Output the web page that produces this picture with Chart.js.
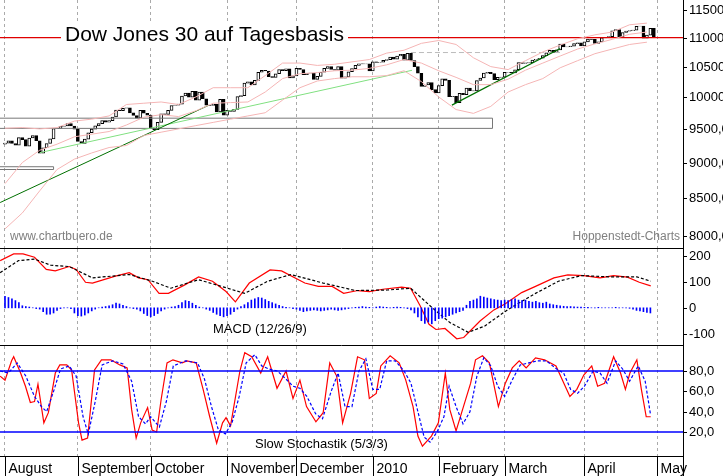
<!DOCTYPE html>
<html><head><meta charset="utf-8">
<script src="https://cdn.jsdelivr.net/npm/chart.js@4.4.1/dist/chart.umd.min.js"></script>
<style>
body{margin:0;background:#fff;width:723px;height:476px;overflow:hidden;font-family:Arial,"Liberation Sans",sans-serif}
.p{position:absolute;left:0;width:723px}
</style></head><body>
<div class="p" style="top:0;height:249px"><canvas id="c1"></canvas></div>
<div class="p" style="top:249px;height:97px"><canvas id="c2"></canvas></div>
<div class="p" style="top:346px;height:130px"><canvas id="c3"></canvas></div>
<script>
// ---- data ----
const monthDays = [0,21,42,64,84,106,125,144,167,188];
const monthLabels = ["August","September","October","November","December","2010","February","March","April","May"];
const closes = [
9286,9320,9280,9256,9370,9337,9241,9362,9398,9321,9135,9217,9280,9350,9505,9509,9539,9544,9580,9544,9496,
9310,9280,9345,9441,9497,9547,9580,9627,9605,9626,9683,9791,9783,9820,9829,9748,9707,9665,9789,9742,9712,
9509,9487,9599,9731,9725,9786,9864,9871,9885,10016,10062,9995,10092,9949,10081,9972,9868,9867,9882,9762,9962,9713,
9789,9772,9802,10005,10023,10226,10246,10197,10271,10406,10437,10426,10332,10318,10380,10450,10433,10464,10310,10345,
10471,10452,10366,10388,10390,10286,10337,10405,10471,10502,10452,10441,10501,10308,10328,10414,10466,10520,10547,10545,10548,10428,
10583,10572,10574,10607,10619,10663,10627,10680,10711,10610,10726,10604,10500,10389,10173,10194,10236,10120,10067,
10185,10297,10270,10003,10012,9908,10058,10038,10144,10100,10099,10268,10309,10392,10402,10383,10282,10321,10325,
10404,10405,10396,10447,10567,10552,10564,10567,10611,10625,10642,10686,10733,10779,10741,10785,10888,10836,10841,10850,10895,10907,10856,
10927,10973,10969,10897,10927,10997,11005,11019,11123,11144,11018,11092,11117,11124,11134,11204,11205,10991,11045,11167,11008];
const firstOpen = 9270;
const bandDays = [0,5,10,15,20,25,30,35,40,45,50,55,60,65,70,75,80,85,90,95,100,105,110,115,120,125,130,135,140,145,150,155,160,165,170,175,180,185];
const bandMid = [8700,9000,9180,9270,9380,9420,9460,9560,9680,9720,9690,9780,9900,9910,9920,10080,10300,10380,10400,10430,10440,10470,10530,10620,10560,10430,10320,10200,10200,10290,10440,10560,10680,10800,10890,10970,11060,11100];
const bandUp = [9510,9520,9500,9520,9620,9650,9700,9880,9900,9920,9880,10000,10150,10150,10150,10350,10560,10560,10520,10540,10580,10620,10730,10780,10900,10950,10880,10650,10500,10450,10600,10750,10870,10980,11050,11100,11230,11260];
const bandLow = [8090,8300,8600,8900,9050,9140,9220,9250,9400,9450,9500,9550,9600,9650,9700,9750,9950,10150,10260,10300,10330,10330,10350,10430,10250,10000,9800,9740,9850,10080,10200,10300,10480,10600,10720,10800,10880,10920];
const trendDark1 = [[-1.4,8440],[58.8,9870]];
const trendDark2 = [[128.8,9870],[160,10810]];
const trendLight = [[10,9144],[117.3,10438]];
const resistance = 11000;
const boxBig = [9508,9665,-1.5,140.5];
const boxSmall = [8900,8940,-1.5,14];
const dashLevel = [10740,117,160];
const priceTicks = [8000,8500,9000,9500,10000,10500,11000,11500];

const macdX = [-1.4,2.5,5.2,8.5,11.9,14.5,18.5,20.5,23.2,25.2,31.8,35.8,38.5,41.2,44.4,47.1,51.8,55.8,59.8,63.7,66.4,70.4,76.4,79.7,86.4,90.3,94.3,97.6,101.7,105,108.9,114.3,116.9,119.6,122.2,124.2,126.8,130.2,132.2,136.9,140.9,144.2,148.9,152.9,158.2,162.2,166.8,171.5,175.4,179.4,182.8,186.1];
const macdY = [183,209,209,196,149,143,160,149,99,96,123,136,116,109,56,56,89,120,103,63,23,96,147,143,96,83,83,56,67,63,72,80,76,9,-64,-84,-80,-120,-115,-51,-8,16,59,83,116,128,125,116,125,119,99,85];
const sigX = [-1.4,3.9,8.5,13.2,18.5,25.2,35.8,42.5,47.8,55.8,62.4,69.1,75.7,82.4,91.7,101,110.2,116.9,122.9,128.2,133.5,138.2,144.8,152.9,159.5,166.1,174.1,182.1,186.1];
const sigY = [136,183,189,165,160,116,129,103,76,109,83,56,103,129,96,67,69,76,3,-57,-95,-71,-8,56,103,125,120,120,103];
const hist = [45,40,35,28,20, 8,5,3,0,-3,-5, -15,-25,-25,-20,-10, -3,0,0,-3, -20,-30,-32,-28,-20,-12,-5, 0,3,5, 8,12,18,15,10,5, 0,-3,
-5,-12,-22,-30,-35,-30,-22,-12, -5,0,3,5, 10,20,28,25,18,10, 3,0, -5,-10,-18,-25,-30,-35,-30,-25,-15, -5,5,12,
20,30,35,40,38,32,25,20,15,10,5, 2,0,-3, -5,-10,-15,-12,-10,-8,-10,-12,-10,-8,-5,-8,-10,-8,-5,-3, 0,2,
3,5,3,2,0,3,5,3,2,0,2,3,2,0, -3,-8, -20,-35,-50,-60,-55,-62,-50,-42,-40,-35,-30,-25,-20,-15,-10, 10,
25,30,35,45,42,38,35,32,30,28, 30,28,32,35,30,28,30,25,22,25,20,18,22,15,12,10,8,
6,5,5,4,3,3,2,2,0,0,2,0,0,0, 0,2,0,0,0,-2,-5,-10,-12,-15,-18,-20];
const macdTicks = [-100,0,100,200];

const kX = [-1.4,0,1.9,2.5,4.5,5.9,7.3,8.5,9.5,11.2,12.5,14.5,15.8,17.8,19.2,21.2,22.2,23.8,25.8,27.8,30.5,33.1,35.2,36.5,37.8,39.1,41.1,42.4,43.7,45,46.7,48.4,51.1,52.4,55.1,57.1,59,61,62.7,63.7,65,67.7,69.1,71.1,73.7,75.7,78.4,81,83,85,86.9,89.6,91.7,93.6,95.6,97.3,99.6,101.6,103.6,105,107,108.3,111,113.6,115.5,117.6,119,120.3,122.9,124.9,126.9,128.2,130,131.6,134.2,135.6,137.6,139.6,142.2,144.2,146.2,148.2,150.2,152.9,155.5,158.8,160.8,162.8,164.8,166.8,169.1,170.8,172.8,175.4,177.4,178.8,180.1,182.1,183.4,184.8,186.1];
const kY = [75,71,90,94,78,65,49,50,67,29,39,78,86,86,81,29,12,14,81,91,91,86,83,42,14,29,44,22,20,52,88,91,88,90,88,62,35,9,29,34,26,80,98,94,78,94,63,80,53,71,45,30,39,88,75,29,58,94,91,53,58,85,95,88,71,45,16,6,16,29,78,42,21,39,68,91,95,88,45,68,83,90,83,93,91,85,70,55,62,76,85,65,68,94,78,62,78,91,62,35,35];
const dX = [-1.4,1,3.5,6,8.5,10.5,12,14,16,18.5,20.5,22.5,24,26,28,31,34,36.5,38.5,40.5,42,44.5,46.5,48.5,52,55.5,57.5,59.5,61.5,63.5,65.5,67.5,69.5,72,74,76,78.5,81,83,85,87,89.5,91.5,94,96,98,100,102,104,106,108,110,112.5,115,117,119,120.8,122.5,124.5,126.5,128,130,132,134,136,138,140,142,144,146,148.5,151,153.5,156,159,161,163,165,167,169.5,171.5,173.5,176,178,180,182.5,184.5,186];
const dY = [80,78,88,75,55,45,40,60,82,85,75,35,18,50,86,90,87,70,35,28,35,25,50,85,90,88,72,45,22,18,30,55,88,96,85,82,80,72,65,63,55,38,33,60,78,45,45,80,92,62,62,90,90,80,68,40,15,10,20,35,65,45,28,40,75,93,85,65,55,70,86,88,90,90,82,78,62,58,65,80,78,68,90,82,70,85,70,38];
const stochTicks = [20,40,60,80];
const stochLevels = [20,80];

// ---- helpers ----
const XMIN=-1.44, XMAX=195.4;
const FF='Arial, "Liberation Sans", sans-serif';
function xScale(){return {type:'linear',min:XMIN,max:XMAX,offset:false,afterBuildTicks:s=>{s.ticks=monthDays.map(v=>({value:v}));},
  ticks:{display:false},border:{display:false,dash:[3,3]},grid:{color:'#aaaaaa',drawTicks:false,lineWidth:1,offset:false,tickBorderDash:[3,3],borderDash:[3,3]}};}
function yAxis(extra){return Object.assign({position:'right',afterFit:s=>{s.width=40;},
  border:{display:true,color:'#000',width:1},grid:{display:false},ticks:{display:false}},extra);}
function yLabels(ticks,fmt){return {id:'yl',afterDraw(c){const a=c.chartArea,x=c.ctx,ys=c.scales.y;x.save();
  x.font='13px '+FF;x.fillStyle='#000';x.strokeStyle='#000';x.textBaseline='middle';
  ticks.forEach(v=>{const py=Math.round(ys.getPixelForValue(v))+0.5;x.beginPath();x.moveTo(a.right,py);x.lineTo(a.right+4,py);x.stroke();
    x.fillText(fmt(v),a.right+6,py);});
  x.beginPath();x.moveTo(0,a.bottom-0.5);x.lineTo(a.right,a.bottom-0.5);x.stroke();
  x.restore();}};}
const pts=(xs,ys)=>xs.map((x,i)=>({x,y:ys[i]}));
const line=(data,color,w,dash)=>({type:'line',data,borderColor:color,borderWidth:w||1,borderDash:dash||[],pointRadius:0,tension:0,fill:false});
const baseOpts={responsive:true,maintainAspectRatio:false,animation:false,layout:{padding:0},
  plugins:{legend:{display:false},tooltip:{enabled:false}}};

// ---- main price chart ----
const opens = closes.map((c,i)=> i===0?firstOpen:closes[i-1]);
const candles = closes.map((c,i)=>({x:i,y:[opens[i],c]}));
const candleFill = closes.map((c,i)=> c<opens[i]?'#000':'#fff');
const mainData = {datasets:[
  line(pts(bandDays,bandUp),'#f5b5b5',1),
  line(pts(bandDays,bandMid),'#f5b5b5',1),
  line(pts(bandDays,bandLow),'#f5b5b5',1),
  line(trendDark1.map(p=>({x:p[0],y:p[1]})),'#007000',1),
  line(trendDark2.map(p=>({x:p[0],y:p[1]})),'#007000',1.2),
  line(trendLight.map(p=>({x:p[0],y:p[1]})),'#80e080',1),
  line([{x:boxBig[2],y:boxBig[0]},{x:boxBig[3],y:boxBig[0]},{x:boxBig[3],y:boxBig[1]},{x:boxBig[2],y:boxBig[1]}],'#777',1),
  line([{x:boxSmall[2],y:boxSmall[0]},{x:boxSmall[3],y:boxSmall[0]},{x:boxSmall[3],y:boxSmall[1]},{x:boxSmall[2],y:boxSmall[1]}],'#777',1),
  line([{x:dashLevel[1],y:dashLevel[0]},{x:dashLevel[2],y:dashLevel[0]}],'#bbb',1,[5,3]),
  line([{x:XMIN,y:resistance},{x:XMAX,y:resistance}],'#e00000',1.3),
  {type:'bar',data:candles,backgroundColor:candleFill,borderColor:'#000',borderWidth:1,barThickness:3,grouped:false,borderSkipped:false}
]};
const mainText={id:'mt',afterDatasetsDraw(c){const x=c.ctx;x.save();
  x.font='21px '+FF;x.textBaseline='alphabetic';
  const t='Dow Jones 30 auf Tagesbasis';const w=x.measureText(t).width;
  x.fillStyle='#fff';x.fillRect(61,22,w+8,24);x.fillStyle='#000';x.fillText(t,65,41);
  x.font='12px '+FF;x.fillStyle='#808080';
  x.fillText('www.chartbuero.de',10,240);x.textAlign='right';x.fillText('Hoppenstedt-Charts',680,240);
  x.restore();}};
new Chart(document.getElementById('c1'),{type:'bar',data:mainData,plugins:[mainText,yLabels(priceTicks,v=>v+',0')],options:Object.assign({},baseOpts,{
  scales:{x:xScale(),y:yAxis({type:'logarithmic',min:7833,max:11686})}})});

// ---- MACD ----
new Chart(document.getElementById('c2'),{type:'bar',data:{datasets:[
  {type:'bar',data:hist.map((v,i)=>({x:i,y:v})),backgroundColor:'#0000ff',barThickness:1,grouped:false},
  line(pts(sigX,sigY),'#000',1.2,[3,2]),
  line(pts(macdX,macdY),'#ff0000',1.2)
]},plugins:[yLabels(macdTicks,v=>String(v)),{id:'mx',afterDatasetsDraw(c){const x=c.ctx;x.save();x.font='13px '+FF;x.fillStyle='#000';x.fillText('MACD (12/26/9)',213,84);x.restore();}}],
options:Object.assign({},baseOpts,{scales:{x:xScale(),y:yAxis({min:-148,max:228})}})});

// ---- Stochastic ----
const xAxisDraw={id:'xa',afterDraw(c){const a=c.chartArea,x=c.ctx,sx=c.scales.x;x.save();
  x.font='14px '+FF;x.fillStyle='#000';x.strokeStyle='#000';x.lineWidth=1;
  monthDays.forEach((d,i)=>{const px=Math.round(sx.getPixelForValue(d))+0.5;x.beginPath();x.moveTo(px,a.bottom);x.lineTo(px,a.bottom+19);x.stroke();
    x.fillText(monthLabels[i],px+3,a.bottom+16);});
  x.beginPath();x.moveTo(a.right+0.5,a.bottom);x.lineTo(a.right+0.5,a.bottom+19);x.stroke();
  x.font='13px '+FF;x.fillText('Slow Stochastik (5/3/3)',255,102);
  x.restore();}};
new Chart(document.getElementById('c3'),{type:'line',data:{datasets:[
  line([{x:XMIN,y:stochLevels[1]},{x:XMAX,y:stochLevels[1]}],'#0000ff',1.3),
  line([{x:XMIN,y:stochLevels[0]},{x:XMAX,y:stochLevels[0]}],'#0000ff',1.3),
  line(pts(dX,dY),'#0000ff',1.2,[3,2]),
  line(pts(kX,kY),'#ff0000',1.2)
]},plugins:[yLabels(stochTicks,v=>v+',0'),xAxisDraw],
options:Object.assign({},baseOpts,{layout:{padding:{bottom:19}},scales:{x:xScale(),y:yAxis({min:-4.6,max:104.6})}})});
</script></body></html>
